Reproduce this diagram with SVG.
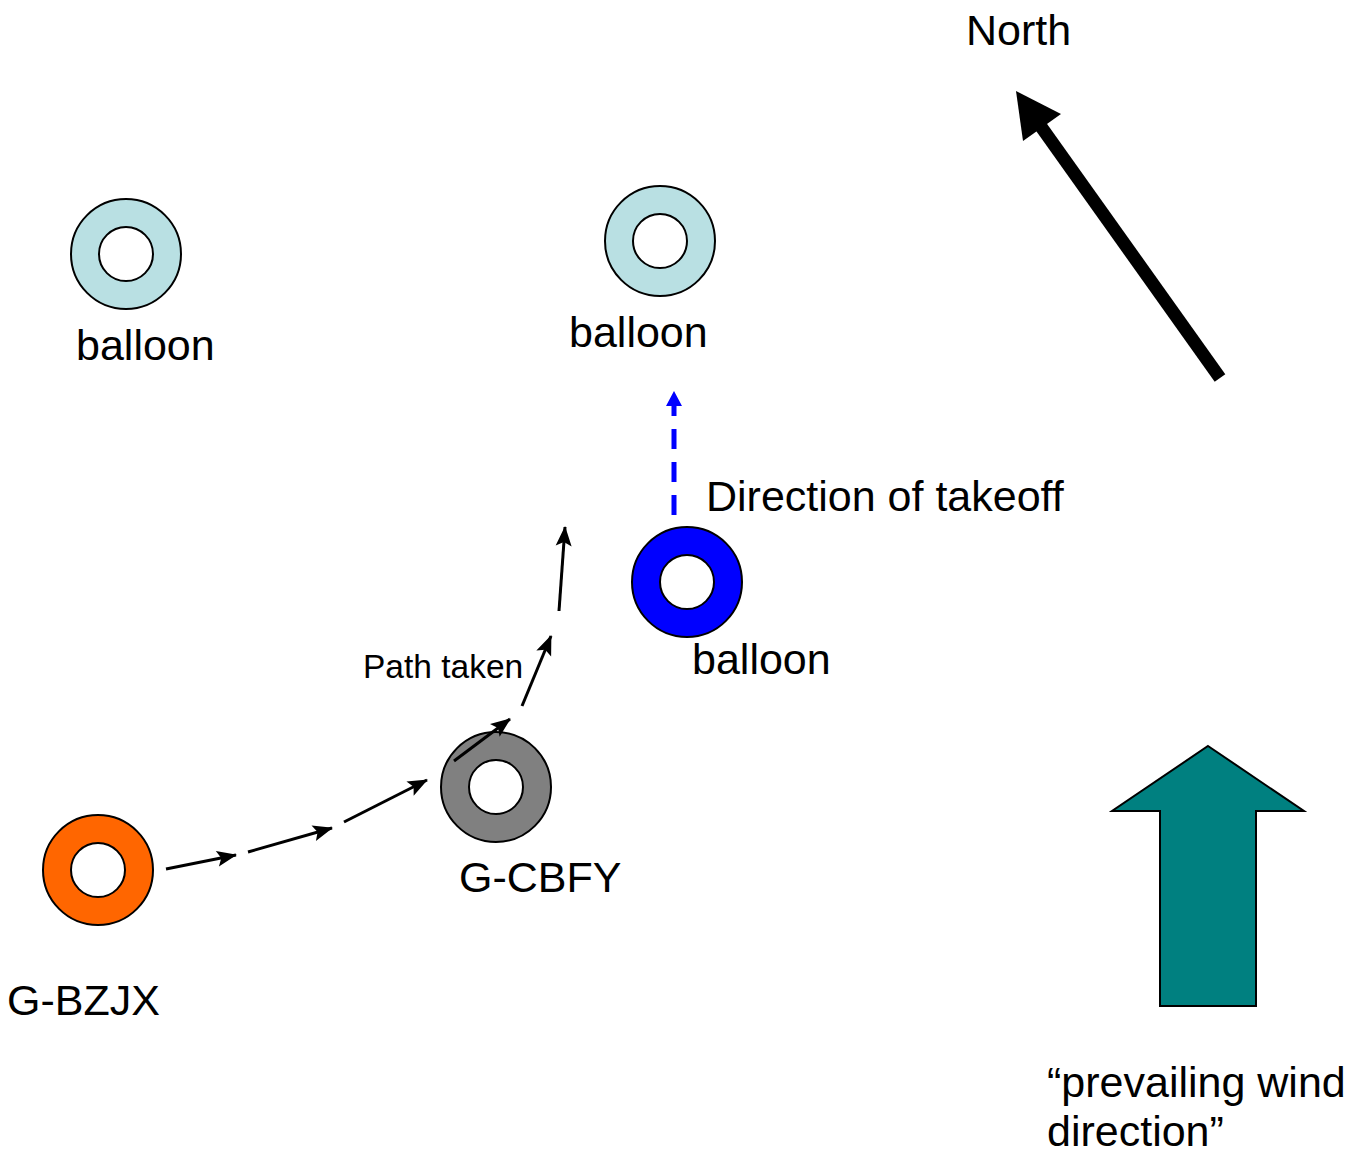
<svg xmlns="http://www.w3.org/2000/svg" width="1362" height="1153" viewBox="0 0 1362 1153">
<style>
text{font-family:"Liberation Sans",Arial,sans-serif;fill:#000}
.big{font-size:43px}
.small{font-size:33.5px}
.ring{stroke:#000;stroke-width:2}
.hole{fill:#fff;stroke:#000;stroke-width:2}
.path{stroke:#000;stroke-width:3;fill:none}
</style>
<defs>
<marker id="ah" viewBox="0 0 20 16" refX="19" refY="8" markerWidth="20" markerHeight="16" markerUnits="userSpaceOnUse" orient="auto" overflow="visible">
<path d="M0,0 L20,8 L0,16 L4,8 z" fill="#000"/>
</marker>
</defs>
<rect width="1362" height="1153" fill="#fff"/>
<g id="balloon-left">
<circle class="ring" cx="126" cy="254" r="55" fill="#b9e0e3"/>
<circle class="hole" cx="126" cy="254" r="27"/>
<text class="big" x="76" y="360">balloon</text>
</g>
<g id="balloon-top">
<circle class="ring" cx="660" cy="241" r="55" fill="#b9e0e3"/>
<circle class="hole" cx="660" cy="241" r="27"/>
<text class="big" x="569" y="347">balloon</text>
</g>
<g id="balloon-blue">
<circle class="ring" cx="687" cy="582" r="55" fill="#0000ff"/>
<circle class="hole" cx="687" cy="582" r="27"/>
<text class="big" x="692" y="674">balloon</text>
</g>
<g id="g-cbfy">
<circle class="ring" cx="496" cy="787" r="55" fill="#808080"/>
<circle class="hole" cx="496" cy="787" r="27"/>
<text class="big" x="459" y="892">G-CBFY</text>
</g>
<g id="g-bzjx">
<circle class="ring" cx="98" cy="870" r="55" fill="#ff6600"/>
<circle class="hole" cx="98" cy="870" r="27"/>
<text class="big" x="7" y="1015">G-BZJX</text>
</g>
<g id="north">
<line x1="1220" y1="378" x2="1037" y2="121" stroke="#000" stroke-width="13"/>
<polygon points="1016,91 1061,114 1023,141" fill="#000"/>
<text class="big" x="966" y="45">North</text>
</g>
<g id="wind">
<polygon points="1208,746 1304,811 1256,811 1256,1006 1160,1006 1160,811 1112,811" fill="#008080" stroke="#000" stroke-width="2"/>
<text class="big" x="1047" y="1097">“prevailing wind</text>
<text class="big" x="1047" y="1146">direction”</text>
</g>
<g id="connectors">
<line x1="674" y1="515" x2="674" y2="404" stroke="#0000ff" stroke-width="5" stroke-dasharray="20 13"/>
<polygon points="674,391 682,406 666,406" fill="#0000ff"/>
<line class="path" x1="166" y1="869" x2="236" y2="855" marker-end="url(#ah)"/>
<line class="path" x1="248" y1="852" x2="332" y2="828" marker-end="url(#ah)"/>
<line class="path" x1="344" y1="822" x2="427" y2="780" marker-end="url(#ah)"/>
<line class="path" x1="454" y1="761" x2="510" y2="719" marker-end="url(#ah)"/>
<line class="path" x1="522" y1="706" x2="551" y2="636" marker-end="url(#ah)"/>
<line class="path" x1="559" y1="611" x2="565" y2="527" marker-end="url(#ah)"/>
</g>
<text class="big" x="706" y="511">Direction of takeoff</text>
<text class="small" x="363" y="678">Path taken</text>
</svg>
